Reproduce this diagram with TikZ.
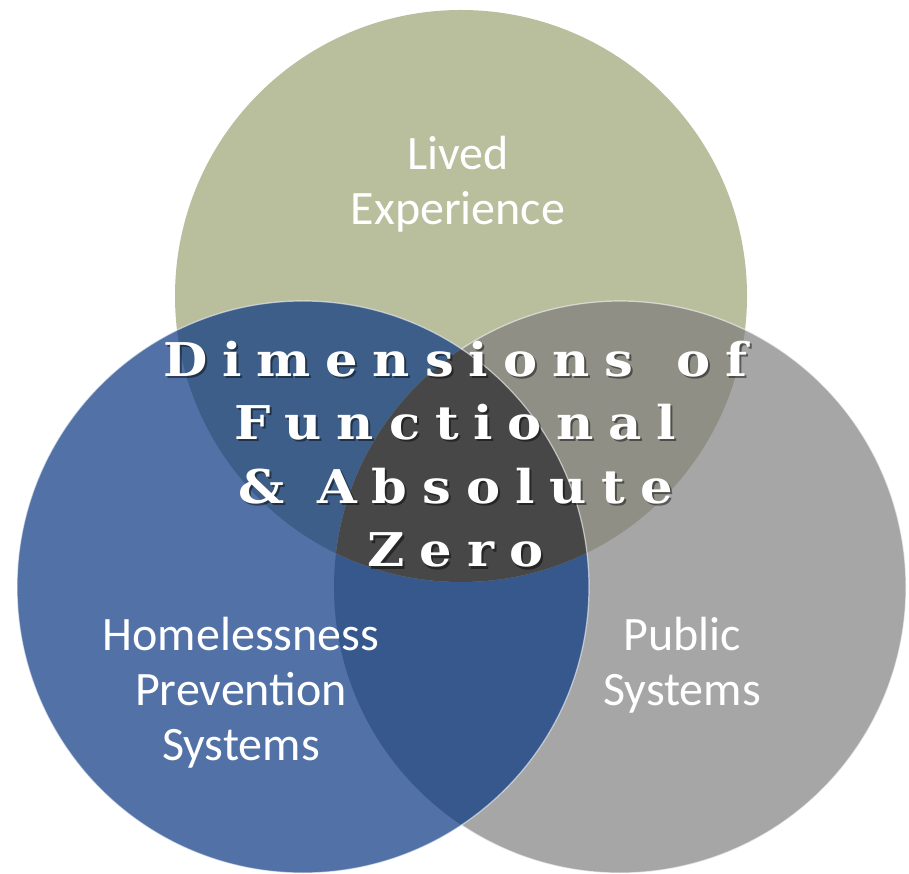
\documentclass[tikz,border=0pt]{standalone}
\usepackage{fontspec}
\setmainfont{Carlito}
\newfontfamily\titlefont[LetterSpace=32,FakeStretch=1.1]{DejaVu Serif Bold}
\definecolor{cO}{HTML}{B9BE9D}
\definecolor{cB}{HTML}{5272A7}
\definecolor{cG}{HTML}{A6A6A6}
\definecolor{cOB}{HTML}{3D5E88}
\definecolor{cOG}{HTML}{8F8F85}
\definecolor{cBG}{HTML}{37588C}
\definecolor{cOBG}{HTML}{474747}
\newcommand\vrad{286}
\tikzset{
  rimline/.style={draw=white, draw opacity=0.6, line width=1.2pt},
  lbl/.style={text=white, align=center, font=\fontsize{48}{55}\selectfont, inner sep=0pt, anchor=base},
  ttl/.style={text=white, font=\titlefont\fontsize{46.5}{50}\selectfont, inner sep=0pt, anchor=base},
  ttlshadow/.style={text=black, text opacity=0.45, font=\titlefont\fontsize{46.5}{50}\selectfont, inner sep=0pt, anchor=base}
}
\begin{document}
\begin{tikzpicture}[x=1pt,y=1pt]
\useasboundingbox (0,0) rectangle (909,873);
\coordinate (O) at (461,577);
\coordinate (B) at (303,286);
\coordinate (G) at (620,286);
% base circles
\fill[cO] (O) circle (\vrad);
\fill[cG] (G) circle (\vrad);
\fill[cB] (B) circle (\vrad);
% pairwise
\begin{scope}
  \clip (B) circle (\vrad);
  \fill[cBG] (G) circle (\vrad);
\end{scope}
\begin{scope}
  \clip (O) circle (\vrad);
  \fill[cOB] (B) circle (\vrad);
\end{scope}
\begin{scope}
  \clip (O) circle (\vrad);
  \fill[cOG] (G) circle (\vrad);
\end{scope}
\begin{scope}
  \clip (O) circle (\vrad);
  \clip (B) circle (\vrad);
  \fill[cOBG] (G) circle (\vrad);
\end{scope}
% light rims
\draw[rimline] (G) ++(236.3:\vrad) arc[start angle=236.3, end angle=483.7, radius=\vrad];
\draw[rimline] (B) circle (\vrad);
% labels
\node[lbl] (lived) at (458,648) {Lived\\Experience};
\node[lbl] (hps) at (241,113) {Homelessness\\Prevention\\Systems};
\node[lbl] (pub) at (682,168) {Public\\Systems};
% title with shadow
\node[ttlshadow] (t1s) at (457.5,494) {Dimensions\hspace{44pt}of};
\node[ttlshadow] (t2s) at (457.5,431) {Functional};
\node[ttlshadow] (t3s) at (457.5,367.5) {\& Absolute};
\node[ttlshadow] (t4s) at (457.5,304) {Zero};
\node[ttl] (t1) at (455.5,496) {Dimensions\hspace{44pt}of};
\node[ttl] (t2) at (455.5,433) {Functional};
\node[ttl] (t3) at (455.5,369.5) {\& Absolute};
\node[ttl] (t4) at (455.5,306) {Zero};
\end{tikzpicture}
\end{document}
